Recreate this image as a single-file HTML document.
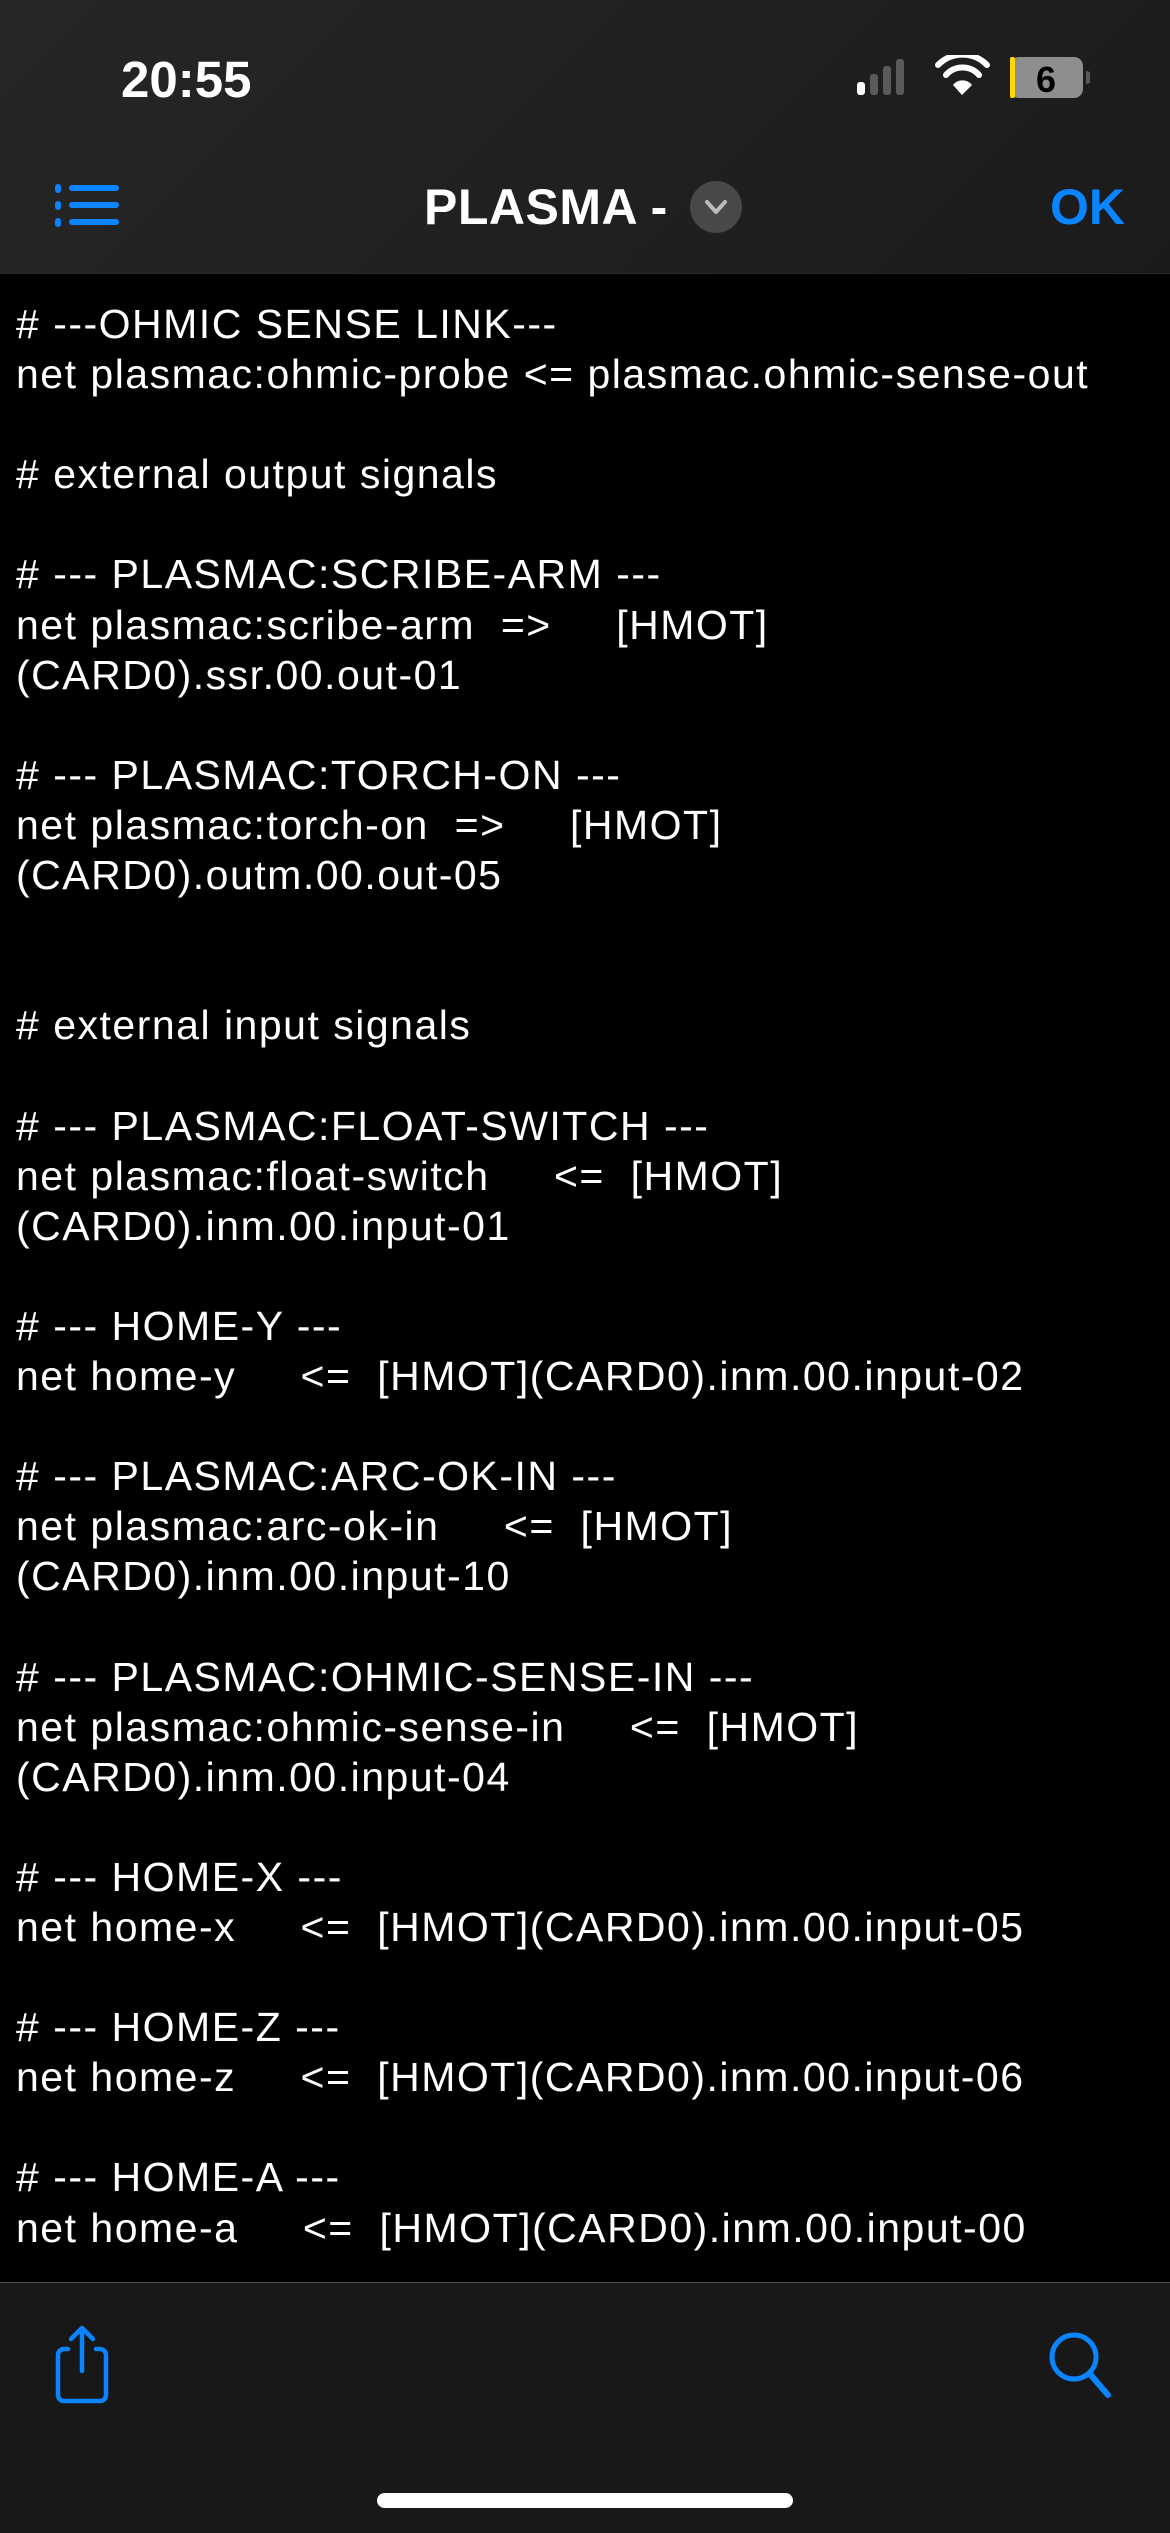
<!DOCTYPE html>
<html><head><meta charset="utf-8"><style>
html,body{margin:0;padding:0;background:#000;}
body{width:1170px;height:2532px;position:relative;overflow:hidden;font-family:"Liberation Sans",sans-serif;}
.hdr{position:absolute;left:0;top:0;width:1170px;height:273px;background:linear-gradient(135deg,#262626,#1b1b1b);border-bottom:1px solid #2a2a2a;}
.time{position:absolute;left:121px;top:50px;font-size:51px;font-weight:bold;color:#fff;letter-spacing:0px;}
.title{position:absolute;left:424px;top:178px;font-size:50px;font-weight:bold;color:#fff;letter-spacing:0.5px;}
.ok{position:absolute;left:1050px;top:178px;font-size:50px;font-weight:bold;color:#0a84ff;}
.chev{position:absolute;left:690px;top:181px;width:52px;height:52px;border-radius:50%;background:#48484a;}
.txt{position:absolute;left:16px;top:299px;color:#fff;font-size:41px;line-height:50.1px;white-space:pre;letter-spacing:1.5px;}
.tb{position:absolute;left:0;top:2282px;width:1170px;height:250px;background:#181818;border-top:1px solid #4a4a4a;}
.home{position:absolute;left:377px;top:2493px;width:416px;height:15px;border-radius:8px;background:#fff;}
</style></head><body>
<div class="hdr">
<div class="time">20:55</div>
<svg style="position:absolute;left:850px;top:55px" width="240" height="50">
<rect x="7" y="27" width="8" height="13" rx="3" fill="#fff"/>
<rect x="20" y="19" width="8" height="21" rx="3" fill="#5a5a5a"/>
<rect x="33" y="11" width="8" height="29" rx="3" fill="#5a5a5a"/>
<rect x="46" y="4" width="8" height="36" rx="3" fill="#5a5a5a"/>
<path d="M88 10 A34 34 0 0 1 137 10" stroke="#fff" stroke-width="6" fill="none" stroke-linecap="round"/>
<path d="M96 20 A22 22 0 0 1 129 20" stroke="#fff" stroke-width="6" fill="none" stroke-linecap="round"/>
<path d="M103 30 L112 40 L122 30 A12 12 0 0 0 103 30Z" fill="#fff"/>
<rect x="160" y="2" width="73" height="41" rx="9" fill="#8e8e8e"/>
<rect x="160" y="2" width="5" height="41" rx="2" fill="#ffd60a"/>
<path d="M236 16 a6 6 0 0 1 0 13z" fill="#5a5a5a"/>
<text x="196" y="37" font-family="Liberation Sans" font-weight="bold" font-size="36" text-anchor="middle" fill="#000">6</text>
</svg>
<svg style="position:absolute;left:52px;top:180px" width="75" height="52">
<g fill="#0a84ff"><rect x="3" y="4" width="6" height="9" rx="3"/><rect x="3" y="21" width="6" height="9" rx="3"/><rect x="3" y="38" width="6" height="9" rx="3"/>
<rect x="17" y="5" width="50" height="6" rx="3"/><rect x="17" y="22" width="50" height="6" rx="3"/><rect x="17" y="39" width="50" height="6" rx="3"/></g>
</svg>
<div class="title">PLASMA -</div>
<div class="chev"><svg width="52" height="52"><path d="M17 21 L26 31 L35 21" stroke="#bbb" stroke-width="4" fill="none" stroke-linecap="round" stroke-linejoin="round"/></svg></div>
<div class="ok">OK</div>
</div>
<div class="txt"># ---OHMIC SENSE LINK---
net plasmac:ohmic-probe &lt;= plasmac.ohmic-sense-out

# external output signals

# --- PLASMAC:SCRIBE-ARM ---
net plasmac:scribe-arm  =&gt;     [HMOT]
(CARD0).ssr.00.out-01

# --- PLASMAC:TORCH-ON ---
net plasmac:torch-on  =&gt;     [HMOT]
(CARD0).outm.00.out-05


# external input signals

# --- PLASMAC:FLOAT-SWITCH ---
net plasmac:float-switch     &lt;=  [HMOT]
(CARD0).inm.00.input-01

# --- HOME-Y ---
net home-y     &lt;=  [HMOT](CARD0).inm.00.input-02

# --- PLASMAC:ARC-OK-IN ---
net plasmac:arc-ok-in     &lt;=  [HMOT]
(CARD0).inm.00.input-10

# --- PLASMAC:OHMIC-SENSE-IN ---
net plasmac:ohmic-sense-in     &lt;=  [HMOT]
(CARD0).inm.00.input-04

# --- HOME-X ---
net home-x     &lt;=  [HMOT](CARD0).inm.00.input-05

# --- HOME-Z ---
net home-z     &lt;=  [HMOT](CARD0).inm.00.input-06

# --- HOME-A ---
net home-a     &lt;=  [HMOT](CARD0).inm.00.input-00</div>
<div class="tb">
<svg style="position:absolute;left:52px;top:40px" width="70" height="82">
<path d="M44 26 H48 a6 6 0 0 1 6 6 V72 a6 6 0 0 1 -6 6 H12 a6 6 0 0 1 -6 -6 V32 a6 6 0 0 1 6 -6 H16" stroke="#0a84ff" stroke-width="4.5" fill="none" stroke-linecap="round"/>
<path d="M30 48 V5 M19 16 L30 5 L41 16" stroke="#0a84ff" stroke-width="4.5" fill="none" stroke-linecap="round" stroke-linejoin="round"/>
</svg>
<svg style="position:absolute;left:1046px;top:46px" width="75" height="75">
<circle cx="28" cy="28" r="22" stroke="#0a84ff" stroke-width="5" fill="none"/>
<path d="M44 45 L62 66" stroke="#0a84ff" stroke-width="6" stroke-linecap="round"/>
</svg>
</div>
<div class="home"></div>
</body></html>
